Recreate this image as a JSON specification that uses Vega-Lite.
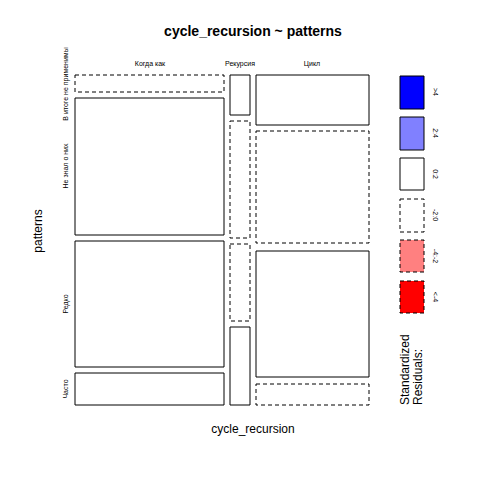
{
"$schema":"https://vega.github.io/schema/vega-lite/v6.json",
"width":480,"height":480,"padding":0,
"autosize":{"type":"none"},
"background":"white",
"config":{"view":{"stroke":null}},
"datasets":{
"tiles":[
{"x":75,"x2":224,"y":75,"y2":92,"dash":"dashed","fill":"white"},
{"x":75,"x2":224,"y":98,"y2":235,"dash":"solid","fill":"white"},
{"x":75,"x2":224,"y":241,"y2":367,"dash":"solid","fill":"white"},
{"x":75,"x2":224,"y":373,"y2":405,"dash":"solid","fill":"white"},
{"x":230,"x2":250,"y":75,"y2":115,"dash":"solid","fill":"white"},
{"x":230,"x2":250,"y":121,"y2":238,"dash":"dashed","fill":"white"},
{"x":230,"x2":250,"y":244,"y2":321,"dash":"dashed","fill":"white"},
{"x":230,"x2":250,"y":327,"y2":405,"dash":"solid","fill":"white"},
{"x":256,"x2":369,"y":75,"y2":125,"dash":"solid","fill":"white"},
{"x":256,"x2":369,"y":131,"y2":243,"dash":"dashed","fill":"white"},
{"x":256,"x2":369,"y":251,"y2":377,"dash":"solid","fill":"white"},
{"x":256,"x2":369,"y":384,"y2":405,"dash":"dashed","fill":"white"},
{"x":400,"x2":424,"y":76,"y2":109,"dash":"solid","fill":"blue"},
{"x":400,"x2":424,"y":117,"y2":150,"dash":"solid","fill":"light"},
{"x":400,"x2":424,"y":158,"y2":190,"dash":"solid","fill":"white"},
{"x":400,"x2":424,"y":199,"y2":232,"dash":"dashed","fill":"white"},
{"x":400,"x2":424,"y":240,"y2":272,"dash":"dashed","fill":"pink"},
{"x":400,"x2":424,"y":281,"y2":313,"dash":"dashed","fill":"red"}
],
"hlabels":[
{"x":150,"y":64,"t":"Когда как"},
{"x":240,"y":64,"t":"Рекурсия"},
{"x":312,"y":64,"t":"Цикл"}
],
"vlabels":[
{"x":66,"y":84,"t":"В итоге не применимы"},
{"x":66,"y":166,"t":"Не знал о них"},
{"x":66,"y":304,"t":"Редко"},
{"x":66,"y":389,"t":"Часто"}
],
"leg":[
{"x":435,"y":92,"t":">4"},
{"x":435,"y":133,"t":"2:4"},
{"x":435,"y":174,"t":"0:2"},
{"x":435,"y":215,"t":"-2:0"},
{"x":435,"y":256,"t":"-4:-2"},
{"x":435,"y":297,"t":"<-4"}
]
},
"layer":[
{"data":{"name":"tiles"},"transform":[{"filter":"datum.dash == 'solid'"}],"mark":{"type":"rect","stroke":"black","strokeWidth":1},
"encoding":{
"x":{"field":"x","type":"quantitative","scale":{"domain":[0,480],"nice":false},"axis":null},
"x2":{"field":"x2"},
"y":{"field":"y","type":"quantitative","scale":{"domain":[0,480],"nice":false,"reverse":true},"axis":null},
"y2":{"field":"y2"},
"fill":{"field":"fill","type":"nominal","scale":{"domain":["white","blue","light","pink","red"],"range":["#ffffff","#0000ff","#8080ff","#ff8080","#ff0000"]},"legend":null}
}},
{"data":{"name":"tiles"},"transform":[{"filter":"datum.dash == 'dashed'"}],"mark":{"type":"rect","stroke":"black","strokeWidth":1,"strokeDash":[4,3]},
"encoding":{
"x":{"field":"x","type":"quantitative"},
"x2":{"field":"x2"},
"y":{"field":"y","type":"quantitative"},
"y2":{"field":"y2"},
"fill":{"field":"fill","type":"nominal","legend":null}
}},
{"data":{"name":"hlabels"},"mark":{"type":"text","fontSize":7,"font":"Liberation Sans","align":"center"},
"encoding":{"x":{"field":"x","type":"quantitative"},"y":{"field":"y","type":"quantitative"},"text":{"field":"t"}}},
{"data":{"name":"vlabels"},"mark":{"type":"text","fontSize":7,"font":"Liberation Sans","angle":270,"align":"center"},
"encoding":{"x":{"field":"x","type":"quantitative"},"y":{"field":"y","type":"quantitative"},"text":{"field":"t"}}},
{"data":{"name":"leg"},"mark":{"type":"text","fontSize":7,"font":"Liberation Sans","angle":90,"align":"center"},
"encoding":{"x":{"field":"x","type":"quantitative"},"y":{"field":"y","type":"quantitative"},"text":{"field":"t"}}},
{"data":{"values":[{"x":253,"y":32,"t":"cycle_recursion ~ patterns"}]},"mark":{"type":"text","fontSize":14,"fontWeight":"bold","font":"Liberation Sans"},
"encoding":{"x":{"field":"x","type":"quantitative"},"y":{"field":"y","type":"quantitative"},"text":{"field":"t"}}},
{"data":{"values":[{"x":253,"y":429,"t":"cycle_recursion"}]},"mark":{"type":"text","fontSize":12,"font":"Liberation Sans"},
"encoding":{"x":{"field":"x","type":"quantitative"},"y":{"field":"y","type":"quantitative"},"text":{"field":"t"}}},
{"data":{"values":[{"x":38,"y":231,"t":"patterns"}]},"mark":{"type":"text","fontSize":12,"font":"Liberation Sans","angle":270},
"encoding":{"x":{"field":"x","type":"quantitative"},"y":{"field":"y","type":"quantitative"},"text":{"field":"t"}}},
{"data":{"values":[{"x":405,"y":405,"t":"Standardized"},{"x":418,"y":405,"t":"Residuals:"}]},"mark":{"type":"text","fontSize":12,"font":"Liberation Sans","angle":270,"align":"left","baseline":"middle"},
"encoding":{"x":{"field":"x","type":"quantitative"},"y":{"field":"y","type":"quantitative"},"text":{"field":"t"}}}
]
}
